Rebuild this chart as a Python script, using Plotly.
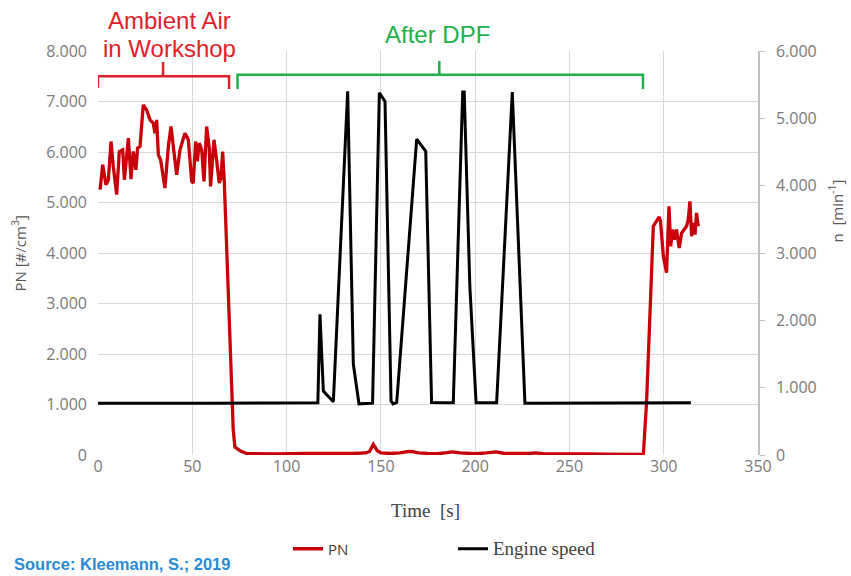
import plotly.graph_objects as go

# ---- data ----
pn_time = [1.1, 2.5, 4.2, 5.5, 6.9, 8.1, 9.9, 11.3, 13.1, 14.0, 16.1, 17.5, 18.7, 20.1, 21.0, 22.3,
           24.0, 25.8, 27.6, 29.3, 30.2, 31.1, 32.0, 33.2, 35.5, 37.3, 38.7, 39.9, 41.7, 43.5, 46.1,
           47.9, 49.7, 50.5, 51.8, 52.7, 53.7, 55.0, 56.2, 57.6, 59.0, 59.7, 61.5, 62.9, 64.3, 65.2,
           66.1, 67.0, 70.9, 71.7, 72.6, 75.3, 78.8, 85, 95, 110, 125, 135, 142, 144, 146, 148, 150,
           155, 160, 165, 167, 170, 175, 180, 185, 188, 192, 200, 206, 211, 215, 222, 228, 232, 236,
           245, 254, 260, 270, 280, 289.2, 290.9, 293.6, 294.5, 297.6, 298.3, 299.8, 301.5, 302.8,
           303.7, 304.7, 305.6, 306.8, 308.2, 309.5, 310.7, 312.1, 313.0, 313.9, 314.8, 315.6, 316.6,
           317.4, 318.3]
pn_value = [5254, 5747, 5352, 5451, 6208, 5714, 5155, 6010, 6043, 5451, 6274, 5464, 6010, 5648, 6076,
            6109, 6932, 6833, 6636, 6570, 6373, 6636, 5945, 5846, 5287, 6109, 6504, 6109, 5550, 6043,
            6373, 6241, 5418, 5385, 6208, 5813, 6175, 6043, 5418, 6504, 6076, 5319, 6241, 5846, 5385,
            5484, 6010, 5385, 1047, 513, 158, 85, 30, 25, 20, 30, 25, 30, 40, 70, 210, 90, 40,
            30, 40, 70, 65, 40, 30, 25, 45, 60, 40, 25, 40, 60, 35, 25, 30, 40, 25,
            20, 25, 20, 15, 15, 10, 1040, 3805, 4530, 4714, 4628, 3937, 3608, 4924,
            4134, 4464, 4266, 4464, 4101, 4398, 4464, 4530, 4661, 5023, 4332, 4596, 4365,
            4793, 4530]

speed_time = [0, 30, 60, 90, 116.6, 117.7, 119.5, 124.8, 132.4, 135.4, 138.4, 145.6, 149.2, 152.2,
              155.4, 156.5, 158.4, 169.0, 173.8, 176.9, 188.4, 193.4, 194.2, 197.2, 200.5, 211.4,
              219.7, 226.4, 250, 280, 300, 314.4]
speed_value = [770, 775, 770, 772, 775, 2090, 950, 790, 5400, 1350, 760, 770, 5380, 5250,
               800, 760, 780, 4690, 4510, 780, 775, 5390, 5390, 2500, 775, 775,
               5390, 770, 770, 775, 770, 775]

x_ticks = [0, 50, 100, 150, 200, 250, 300, 350]

RED = "#c8000a"
TXT_RED = "#e3202a"
GREEN = "#22b04b"
GRAY = "#7a7a7a"

fig = go.Figure()
fig.add_trace(go.Scatter(x=pn_time, y=pn_value, mode="lines", name="PN",
                         line=dict(color=RED, width=3.3)))
fig.add_trace(go.Scatter(x=speed_time, y=speed_value, mode="lines", yaxis="y2",
                         name='<span style="font-family:Liberation Serif;font-size:19px">Engine speed</span>',
                         line=dict(color="#000000", width=3)))

# brackets (data coordinates)
fig.add_shape(type="path", xref="x", yref="y", line=dict(color=TXT_RED, width=2.5),
              path="M 0,7270 L 0,7500 L 34.5,7500 L 34.5,7780 M 34.5,7500 L 69.5,7500 L 69.5,7250")
fig.add_shape(type="path", xref="x", yref="y", line=dict(color=GREEN, width=2.5),
              path="M 74,7250 L 74,7530 L 181,7530 L 181,7800 M 181,7530 L 289,7530 L 289,7250")

L, T, W, H = 98, 51, 660, 405


def px(xp):
    return (xp - L) / W


def py(yp):
    return (T + H - yp) / H


anns = [
    dict(text="Ambient Air", x=px(169), y=py(20), font=dict(size=24, color=TXT_RED, family="Liberation Sans")),
    dict(text="in Workshop", x=px(169), y=py(48), font=dict(size=24, color=TXT_RED, family="Liberation Sans")),
    dict(text="After DPF", x=px(437), y=py(34), font=dict(size=24, color=GREEN, family="Liberation Sans")),
    dict(text="PN [#/cm<sup>3</sup>]", x=px(19), y=py(254), textangle=-90,
         font=dict(size=15, color="#595959", family="Open Sans")),
    dict(text="n  [min<sup>-1</sup>]", x=px(836), y=py(212), textangle=-90,
         font=dict(size=15, color="#595959", family="Open Sans")),
    dict(text="Time  [s]", x=px(425), y=py(512),
         font=dict(size=19, color="#404040", family="Liberation Serif")),
    dict(text="<b>Source: Kleemann, S.; 2019</b>", x=px(12), y=py(565), xanchor="left",
         font=dict(size=16.5, color="#2a8ad4", family="Liberation Sans")),
]
for a in anns:
    a.setdefault("xanchor", "center")
    fig.add_annotation(xref="paper", yref="paper", showarrow=False, yanchor="middle", **a)

fig.update_layout(
    width=851, height=576,
    margin=dict(l=L, r=851 - L - W, t=T, b=576 - T - H),
    paper_bgcolor="white", plot_bgcolor="white",
    separators=",.",
    font=dict(family="Open Sans", color=GRAY, size=16),
    xaxis=dict(range=[0, 350], tickvals=x_ticks, showgrid=True, gridcolor="#d9d9d9", gridwidth=1,
               zeroline=False, showline=False, ticks="", tickfont=dict(size=16, color=GRAY)),
    yaxis=dict(range=[0, 8000], dtick=1000, tickformat=",d", showgrid=True, gridcolor="#d9d9d9",
               zeroline=False, showline=False, ticks="", ticklabelstandoff=10,
               tickfont=dict(size=16, color=GRAY)),
    yaxis2=dict(range=[0, 6000], dtick=1000, tickformat=",d", overlaying="y", side="right",
                showgrid=False, zeroline=False, showline=True, linecolor="#bfbfbf", linewidth=1.5,
                ticks="outside", ticklen=5, tickcolor="#bfbfbf", ticklabelstandoff=8,
                tickfont=dict(size=16, color=GRAY)),
    showlegend=True,
    legend=dict(orientation="h", x=px(288), y=py(549), xanchor="left", yanchor="middle",
                font=dict(size=15, color="#404040", family="Open Sans"),
                entrywidth=120, entrywidthmode="pixels", bgcolor="rgba(0,0,0,0)"),
)

fig.write_html("out.html")
